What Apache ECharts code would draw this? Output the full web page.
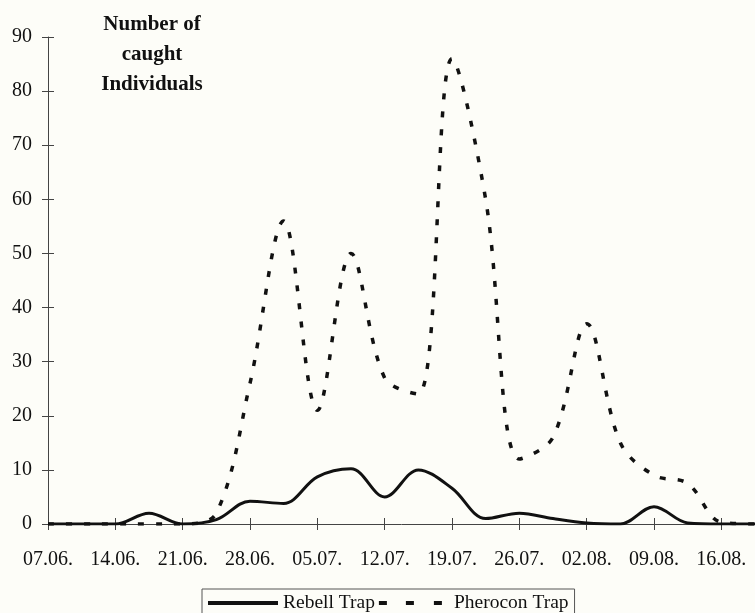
<!DOCTYPE html>
<html>
<head>
<meta charset="utf-8">
<style>
  html, body { margin: 0; padding: 0; background: #fdfdf8; }
  #chart { width: 755px; height: 613px; }
</style>
<script src="https://cdn.jsdelivr.net/npm/echarts@6/dist/echarts.min.js"></script>
</head>
<body>
<div id="chart"></div>
<script>
// Sampling dates, twice a week from 07.06. to 19.08.
const dates = ['07.06.', '10.06.', '14.06.', '17.06.', '21.06.', '24.06.', '28.06.', '01.07.',
  '05.07.', '08.07.', '12.07.', '15.07.', '19.07.', '22.07.', '26.07.', '29.07.',
  '02.08.', '05.08.', '09.08.', '12.08.', '16.08.', '19.08.'];

// Number of caught individuals per sampling date
const rebellTrap = [0, 0, 0, 2, 0, 0.8, 4.2, 3.8, 8.7, 10.2, 5, 10, 6.6, 1, 2, 1, 0.2, 0, 3.2, 0.2, 0, 0];
const pheroconTrap = [0, 0, 0, 0, 0, 2, 26, 56, 21, 50, 27, 24, 86, 60, 12, 16, 37, 15, 9, 7.5, 0.3, 0];

// Y axis range and step
const yMin = 0;
const yMax = 90;
const yStep = 10;

const serif = '"Liberation Serif", "DejaVu Serif", serif';
const ink = '#111';
const axisGrey = '#444';

// Legend keys: a solid bar and three short dashes
const solidKey = 'path://M0,0H70V4H0Z';
const dashedKey = 'path://M0,0h8v4h-8zM27,0h8v4h-8zM55,0h8v4h-8zM70,4';

const chart = echarts.init(document.getElementById('chart'), null, { renderer: 'canvas' });

chart.setOption({
  backgroundColor: '#fdfdf8',
  animation: false,
  grid: { left: 48, right: 0, top: 37, bottom: 89, containLabel: false },
  graphic: [{
    type: 'text',
    x: 152,
    y: 10,
    style: {
      text: 'Number of\ncaught\nIndividuals',
      font: 'bold 21px ' + serif,
      fill: ink,
      textAlign: 'center',
      textVerticalAlign: 'top',
      lineHeight: 30
    }
  }],
  legend: {
    left: 202,
    top: 589,
    orient: 'horizontal',
    padding: [4, 6, 4, 6],
    itemWidth: 70,
    itemHeight: 4,
    itemGap: 4,
    borderColor: '#555',
    borderWidth: 1,
    textStyle: { fontFamily: serif, fontSize: 19.5, color: ink },
    data: [
      { name: 'Rebell Trap', icon: solidKey },
      { name: 'Pherocon Trap', icon: dashedKey }
    ]
  },
  xAxis: [{
    type: 'category',
    data: dates,
    boundaryGap: false,
    axisLine: { lineStyle: { color: axisGrey, width: 1 } },
    axisTick: { show: true, length: 6, lineStyle: { color: axisGrey } },
    axisLabel: { interval: 1, margin: 26, fontFamily: serif, fontSize: 20, color: ink },
    splitLine: { show: false }
  }, {
    type: 'category',
    data: dates,
    boundaryGap: false,
    position: 'bottom',
    axisLine: { show: false },
    axisTick: { show: true, inside: true, length: 6, lineStyle: { color: axisGrey } },
    axisLabel: { show: false },
    splitLine: { show: false }
  }],
  yAxis: [{
    type: 'value',
    min: yMin,
    max: yMax,
    interval: yStep,
    axisLine: { show: true, lineStyle: { color: axisGrey, width: 1 } },
    axisTick: { show: true, length: 6, lineStyle: { color: axisGrey } },
    axisLabel: { margin: 16, fontFamily: serif, fontSize: 20, color: ink },
    splitLine: { show: false }
  }, {
    type: 'value',
    min: yMin,
    max: yMax,
    interval: yStep,
    position: 'left',
    axisLine: { show: false },
    axisTick: { show: true, inside: true, length: 6, lineStyle: { color: axisGrey } },
    axisLabel: { show: false },
    splitLine: { show: false }
  }],
  series: [{
    name: 'Rebell Trap',
    type: 'line',
    data: rebellTrap,
    smooth: 0.35,
    symbol: 'none',
    color: ink,
    lineStyle: { color: ink, width: 3 }
  }, {
    name: 'Pherocon Trap',
    type: 'line',
    data: pheroconTrap,
    smooth: 0.35,
    symbol: 'none',
    color: ink,
    lineStyle: { color: ink, width: 3.5, type: [6, 12] }
  }]
});
</script>
</body>
</html>
